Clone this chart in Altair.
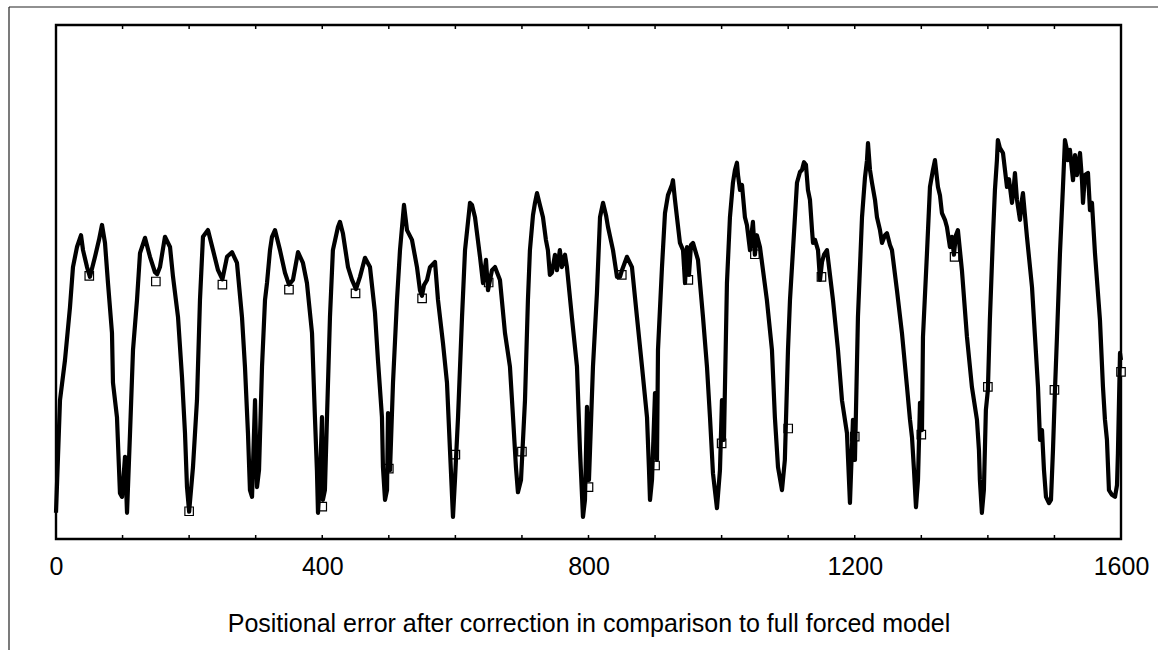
import altair as alt
import pandas as pd

# Line trace (x position, error value on a 0-100 relative scale)
LINE_X = [0, 6, 13.5, 21, 25.5, 31.5, 37.6, 40.6, 46.6, 51, 58.6, 64.6, 69.1, 73.6, 78.1, 84.1, 85.6, 91.6, 96.1, 99.2,
          103.7, 106.7, 111.2, 115.7, 121.7, 126.2, 133.7, 141.2, 148.7, 152, 156.2, 163.7, 171.3, 175.8, 183.3, 189.3, 193.8, 196.8, 200,
          205.8, 211.8, 216.3, 220.8, 228.3, 235.9, 243.4, 250, 256.9, 264.4, 271.9, 279.4, 283.9, 288.4, 291.4, 294.5, 299, 302,
          305, 309.5, 314, 317, 321.5, 324.5, 329, 336.5, 344, 350, 356, 363.6, 371, 377, 384.6, 389, 392, 393.6, 396.6, 399.6,
          401, 404, 407, 411.6, 416, 423.6, 426.6, 431, 438.7, 444.7, 450.7, 456.7, 464.2, 471.7, 479.2, 483.7, 489.7, 491.2, 494.3,
          497.3, 498.8, 501.8, 506.3, 512.3, 516.8, 522.8, 527.3, 534.8, 542.3, 546.8, 549.8, 552.9, 557.4, 561.9, 569.4, 573.9,
          581.4, 587.4, 591.9, 596.4, 599.4, 604, 610, 614.5, 622, 625, 629.5, 637, 641.5, 646, 649, 655, 659.5, 667, 674.5, 682,
          686.6, 691, 694, 698.6, 704.6, 709, 712, 716.6, 719.6, 722.6, 727, 731.6, 736, 739, 742, 745, 749.6, 752.6, 757, 760,
          764.7, 767.6, 775, 782.7, 787.2, 791.7, 794.7, 797.7, 800.7, 806.7, 812.7, 817.3, 821.8, 826.3, 829.3, 836.8, 842.8,
          847.3, 850.3, 857.8, 865.3, 872.8, 880.4, 887.9, 890.9, 892.4, 895.4, 899.9, 902.9, 904.4, 910.4, 914.9, 919.4, 922.4,
          925.4, 926.9, 929.9, 932.9, 937.4, 942, 945, 948, 951, 954, 957, 964.5, 972, 978, 982.5, 987, 993, 997.5, 1000.5, 1003.5,
          1008, 1012.5, 1017, 1020, 1023, 1024.6, 1027.6, 1030.6, 1035, 1038, 1042.6, 1045.6, 1047, 1050, 1053, 1057.6, 1068,
          1075.6, 1080, 1084.7, 1090.7, 1095, 1099.7, 1102.7, 1107.2, 1113.2, 1117.7, 1120.7, 1123.7, 1126.7, 1129.7, 1132.7,
          1135.8, 1137.3, 1140.3, 1144.8, 1147.8, 1150.8, 1153.8, 1158.3, 1167.3, 1174.8, 1180.8, 1188.3, 1192.8, 1197.3, 1200.3,
          1204.8, 1210.9, 1215.4, 1218.4, 1219.9, 1222.9, 1225.9, 1230.4, 1233.4, 1237.9, 1240.9, 1245.4, 1248.4, 1252.9, 1255.9,
          1263.4, 1270.9, 1278.5, 1283, 1286, 1289, 1292, 1295, 1298, 1301, 1302.5, 1308.5, 1313, 1317.5, 1320.5, 1325, 1328,
          1331, 1335.5, 1338.5, 1343, 1346, 1349, 1352, 1355, 1358, 1361, 1368.6, 1376, 1383.6, 1386.6, 1388, 1391, 1394, 1397,
          1400, 1403, 1407.6, 1410.6, 1413.6, 1415, 1418, 1422.7, 1425.7, 1428.7, 1431.7, 1436.2, 1439.2, 1440.7, 1443.7, 1448.2,
          1451.2, 1452.7, 1455.7, 1458.7, 1466.3, 1470.8, 1475.3, 1478.3, 1481.3, 1484.3, 1487.3, 1491.8, 1494.8, 1497.8, 1500.8,
          1503.8, 1508.3, 1512.8, 1515.8, 1518.8, 1520.3, 1523.3, 1526.3, 1527.9, 1530.9, 1533.9, 1538.4, 1541.4, 1542.9, 1545.9,
          1550.4, 1553.4, 1556.4, 1560.9, 1568.4, 1572.9, 1575.9, 1578.9, 1581.9, 1586.4, 1591, 1594, 1595.4, 1598.5, 1600]
LINE_Y = [5.1, 27.0, 34.8, 45.1, 52.9, 56.8, 59.1, 56.2, 52.9, 51.0, 54.9, 58.2, 61.1, 57.6, 49.8, 40.1, 30.4, 23.7, 8.9, 8.2,
          16.0, 5.1, 20.6, 36.8, 46.5, 55.6, 58.6, 54.9, 51.9, 51.5, 52.9, 58.8, 56.8, 51.0, 43.2, 31.5, 20.6, 10.1, 5.3,
          14.0, 27.0, 46.5, 58.8, 60.1, 56.2, 52.3, 50.5, 54.9, 55.8, 53.7, 43.2, 33.5, 20.6, 9.5, 8.2, 27.0, 10.1,
          13.4, 33.5, 46.5, 49.8, 56.2, 58.8, 60.1, 56.2, 51.8, 49.5, 50.4, 55.8, 53.7, 49.8, 40.1, 23.7, 13.4, 5.1, 11.5, 23.7,
          7.6, 9.5, 23.2, 43.2, 56.2, 60.7, 61.7, 59.5, 52.9, 50.4, 48.6, 51.0, 54.7, 52.9, 44.0, 34.8, 23.7, 14.0, 7.6,
          9.5, 24.5, 13.4, 30.4, 46.5, 56.2, 65.0, 60.1, 58.2, 52.9, 48.4, 47.3, 49.4, 50.4, 52.9, 53.9, 46.5,
          38.1, 30.4, 17.3, 4.3, 11.5, 23.7, 43.2, 56.2, 65.4, 65.0, 62.6, 54.9, 49.8, 54.3, 48.4, 52.3, 52.9, 50.4, 40.1, 33.5,
          23.7, 14.0, 9.1, 11.5, 27.0, 46.5, 56.2, 63.0, 65.4, 67.3, 65.0, 62.6, 58.2, 56.2, 51.4, 51.8, 55.3, 52.3, 56.2, 52.9,
          55.3, 52.9, 43.2, 33.5, 17.3, 4.3, 7.6, 25.7, 11.5, 33.5, 47.9, 62.6, 65.4, 63.0, 60.7, 56.2, 51.0,
          51.0, 52.3, 54.9, 52.9, 43.2, 33.5, 23.7, 13.4, 7.6, 11.5, 28.4, 15.4, 36.8, 52.9, 63.4, 66.9, 67.9,
          68.9, 69.8, 66.0, 62.6, 57.6, 56.2, 49.8, 56.8, 51.4, 57.2, 57.6, 54.3, 43.2, 33.5, 23.7, 12.8, 6.0, 13.4, 27.0, 19.3,
          49.8, 62.6, 69.3, 71.8, 73.2, 70.8, 67.9, 68.9, 62.6, 61.1, 56.2, 60.1, 61.7, 55.3, 59.1, 56.8, 46.5,
          36.8, 23.7, 14.0, 9.5, 15.4, 36.8, 46.5, 56.2, 69.3, 71.4, 71.8, 73.3, 72.8, 67.9, 66.0,
          60.1, 57.6, 58.2, 56.2, 50.4, 53.9, 55.3, 56.2, 46.5, 36.8, 27.0, 20.6, 7.0, 23.2, 15.4,
          43.2, 62.6, 70.4, 73.7, 77.0, 71.8, 69.3, 66.0, 62.6, 60.1, 57.6, 59.1, 59.5, 57.2, 56.2,
          48.4, 40.1, 29.6, 23.2, 19.8, 13.4, 6.2, 11.5, 26.5, 21.2, 39.3, 55.6, 68.5, 71.8, 73.7, 68.5, 66.9,
          63.4, 62.1, 60.7, 56.8, 58.8, 55.3, 59.1, 60.1, 56.2, 52.3, 39.3, 29.6, 23.2, 17.3, 11.5, 5.1, 9.5, 25.1,
          29.0, 42.6, 58.8, 67.9, 73.7, 77.6, 76.1, 75.1, 71.8, 68.5, 70.0, 65.4, 68.9, 71.2, 66.0, 62.1,
          66.0, 67.3, 63.0, 58.8, 49.0, 39.3, 29.6, 19.3, 21.2, 13.4, 8.2, 7.0, 7.6, 17.3, 29.0,
          39.3, 55.6, 68.5, 77.6, 75.7, 73.7, 75.7, 71.8, 69.8, 74.7, 70.8, 75.1, 69.8, 65.4, 70.8,
          71.2, 64.0, 65.4, 55.6, 42.6, 29.6, 23.2, 19.3, 9.5, 8.6, 8.2, 10.5, 16.7, 36.2, 34.8]

# Square markers (sampled points every 50)
MARK_X = [50, 150, 200, 250, 350, 400, 450, 500, 550, 600, 650, 700, 800, 850, 900, 950, 1000,
          1050, 1100, 1150, 1200, 1300, 1350, 1400, 1500, 1600]
MARK_Y = [51.2, 50.1, 5.4, 49.5, 48.5, 6.3, 47.8, 13.7, 46.8, 16.4, 49.9, 17.0, 10.1, 51.4, 14.3, 50.4, 18.6,
          55.4, 21.5, 51.0, 19.9, 20.3, 54.9, 29.6, 29.0, 32.5]

TICK_POSITIONS = list(range(0, 1601, 100))
LABEL_VALUES = [0, 400, 800, 1200, 1600]
X_TITLE = "Positional error after correction in comparison to full forced model"

line_df = pd.DataFrame({"x": LINE_X, "y": LINE_Y})
mark_df = pd.DataFrame({"x": MARK_X, "y": MARK_Y})
tick_df = pd.DataFrame({"x": TICK_POSITIONS})

W, H = 1065, 514
FONT = "Liberation Sans"

xscale = alt.Scale(domain=[0, 1600], nice=False, zero=False)
yscale = alt.Scale(domain=[0, 100], nice=False, zero=False)

xaxis = alt.Axis(values=LABEL_VALUES, format="d", ticks=False, domain=False, grid=False,
                 labelFontSize=25, labelFont=FONT, labelColor="black", labelPadding=15,
                 labelFlush=False, labelOverlap=False,
                 title=X_TITLE, titleFontSize=25, titleFont=FONT, titleFontWeight="normal",
                 titleColor="black", titlePadding=32)

# outer figure frame: only top and left edges fall inside the picture
frame_top = alt.Chart(alt.Data(values=[{}])).mark_rule(color="#222222", strokeWidth=1.2).encode(
    x=alt.value(-47), x2=alt.value(1110), y=alt.value(-18))
frame_left = alt.Chart(alt.Data(values=[{}])).mark_rule(color="#222222", strokeWidth=1.2).encode(
    x=alt.value(-47), y=alt.value(-18), y2=alt.value(630))

markers = alt.Chart(mark_df).mark_point(
    shape="square", filled=True, fill="white", stroke="black", strokeWidth=1.2, size=72, opacity=1
).encode(x=alt.X("x:Q", scale=xscale, axis=xaxis), y=alt.Y("y:Q", scale=yscale, axis=None))

line = alt.Chart(line_df).mark_line(
    color="black", strokeWidth=4.2, strokeJoin="round"
).encode(x=alt.X("x:Q", scale=xscale, axis=xaxis), y=alt.Y("y:Q", scale=yscale, axis=None))

ticks_bottom = alt.Chart(tick_df).mark_rule(color="black", strokeWidth=1.5).encode(
    x=alt.X("x:Q", scale=xscale, axis=xaxis), y=alt.value(H), y2=alt.value(H - 4))
ticks_top = alt.Chart(tick_df).mark_rule(color="black", strokeWidth=1.5).encode(
    x=alt.X("x:Q", scale=xscale, axis=xaxis), y=alt.value(0), y2=alt.value(4))

chart = alt.layer(frame_top, frame_left, ticks_bottom, ticks_top, markers, line).properties(
    width=W, height=H,
    background="white",
    autosize=alt.AutoSizeParams(type="none"),
    padding={"left": 56, "top": 25, "right": 37, "bottom": 111},
).configure_view(stroke="black", strokeWidth=2.4, strokeOpacity=1)

chart.save("out.html", embed_options={"renderer": "svg", "actions": False})
